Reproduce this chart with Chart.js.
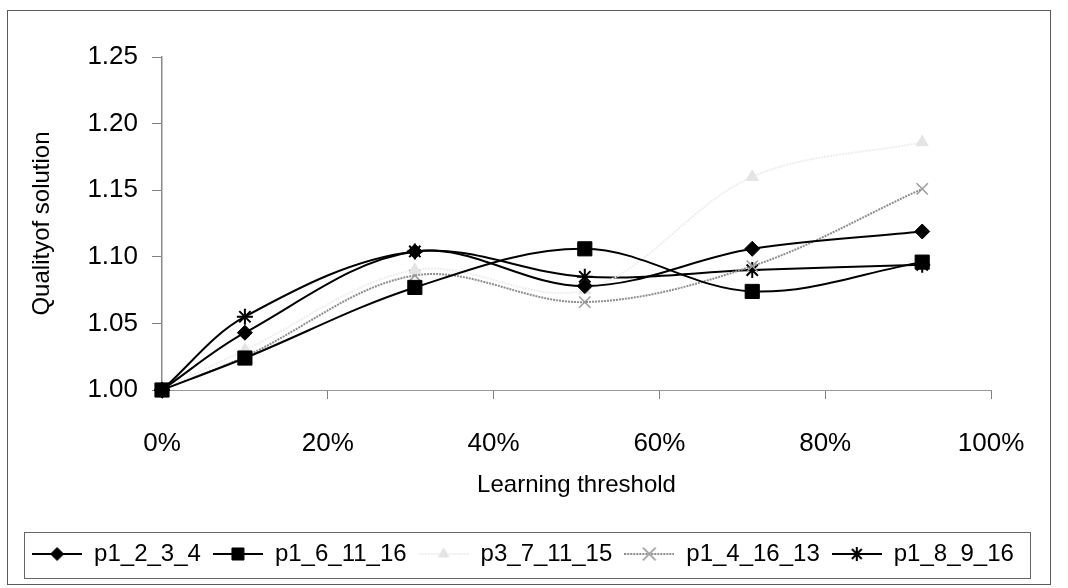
<!DOCTYPE html>
<html>
<head>
<meta charset="utf-8">
<script src="https://cdn.jsdelivr.net/npm/chart.js@4.4.1/dist/chart.umd.min.js"></script>
<style>
  html, body { margin: 0; padding: 0; background: #fff; }
  #wrap { position: relative; width: 1068px; height: 588px; }
</style>
</head>
<body>
<div id="wrap"><canvas id="c" width="1068" height="588"></canvas></div>
<script>
// Learning threshold (%) at which each run was measured
const thresholds = [0, 10, 30.5, 51, 71.2, 91.7];

// Quality of solution per problem instance
const p1_2_3_4   = [1.000, 1.043, 1.104, 1.078, 1.106, 1.119];
const p1_6_11_16 = [1.000, 1.024, 1.077, 1.106, 1.074, 1.096];
const p3_7_11_15 = [1.000, 1.030, 1.090, 1.075, 1.160, 1.186];
const p1_4_16_13 = [1.000, 1.025, 1.086, 1.066, 1.093, 1.151];
const p1_8_9_16  = [1.000, 1.055, 1.104, 1.085, 1.090, 1.094];

const seriesNames = ['p1_2_3_4', 'p1_6_11_16', 'p3_7_11_15', 'p1_4_16_13', 'p1_8_9_16'];
const seriesValues = [p1_2_3_4, p1_6_11_16, p3_7_11_15, p1_4_16_13, p1_8_9_16];

// Axis ticks
const yTicks = [1.00, 1.05, 1.10, 1.15, 1.20, 1.25];
const xTicks = [0, 20, 40, 60, 80, 100];

// Line / marker look of each series
const looks = [
  { line: '#000', lw: 2,   dash: [],     point: 'rectRot',  r: 7.5, fill: '#000', stroke: '#000', pbw: 1,   lr: 6.5 },
  { line: '#000', lw: 2,   dash: [],     point: 'rect',     r: 10,  fill: '#000', stroke: '#000', pbw: 1,   lr: 8.5 },
  { line: '#eeeeee', lw: 2, dash: [2, 1], point: 'triangle', r: 7,  fill: '#e4e4e4', stroke: '#e4e4e4', pbw: 1, lr: 6 },
  { line: '#8e8e8e', lw: 2, dash: [2, 1], point: 'crossRot', r: 8,  fill: 'rgba(0,0,0,0)', stroke: '#9a9a9a', pbw: 1.5, lr: 9 },
  { line: '#000', lw: 2,   dash: [],     point: 'star',     r: 8,   fill: 'rgba(0,0,0,0)', stroke: '#000', pbw: 2, lr: 7 }
];

const FONT = "'Liberation Sans', Arial, Helvetica, sans-serif";
Chart.defaults.font.family = FONT;
Chart.defaults.color = '#000';

// Small line+marker swatches for the legend
function swatch(lk) {
  const c = document.createElement('canvas');
  c.width = 50; c.height = 22;
  const g = c.getContext('2d');
  g.strokeStyle = lk.line;
  g.lineWidth = lk.lw;
  g.setLineDash(lk.dash);
  g.beginPath(); g.moveTo(0, 11); g.lineTo(50, 11); g.stroke();
  g.setLineDash([]);
  g.fillStyle = lk.fill;
  g.strokeStyle = lk.stroke;
  g.lineWidth = lk.pbw;
  Chart.helpers.drawPoint(g, { pointStyle: lk.point, radius: lk.lr, borderWidth: lk.pbw, rotation: 0 }, 25, 11);
  return c;
}
const swatches = looks.map(swatch);

const datasets = seriesNames.map((name, i) => ({
  label: name,
  data: thresholds.map((x, k) => ({ x: x, y: seriesValues[i][k] })),
  borderColor: looks[i].line,
  borderWidth: looks[i].lw,
  borderDash: looks[i].dash,
  backgroundColor: looks[i].fill,
  pointStyle: looks[i].point,
  pointRadius: looks[i].r,
  pointBackgroundColor: looks[i].fill,
  pointBorderColor: looks[i].stroke,
  pointBorderWidth: looks[i].pbw,
  showLine: true,
  tension: 0.35,
  clip: false
}));

// Outer frame and the box around the legend
const framePlugin = {
  id: 'framePlugin',
  afterDraw(chart) {
    const ctx = chart.ctx;
    ctx.save();
    ctx.strokeStyle = '#5a5a5a';
    ctx.lineWidth = 1;
    ctx.strokeRect(7.5, 10.5, 1043, 574);
    const hb = chart.legend.legendHitBoxes;
    if (hb && hb.length) {
      const last = hb[hb.length - 1];
      const l = Math.round(hb[0].left - 8), r = Math.round(last.left + last.width + 16);
      const t = Math.round(hb[0].top - 10), b = Math.round(hb[0].top + hb[0].height + 12);
      ctx.strokeStyle = '#666';
      ctx.strokeRect(l + 0.5, t + 0.5, r - l, b - t);
    }
    ctx.restore();
  }
};

new Chart(document.getElementById('c'), {
  type: 'scatter',
  data: { datasets: datasets },
  plugins: [framePlugin],
  options: {
    responsive: false,
    animation: false,
    devicePixelRatio: 1,
    layout: { padding: { left: 10, right: 32, top: 57, bottom: 12 } },
    plugins: {
      tooltip: { enabled: false },
      legend: {
        position: 'bottom',
        labels: {
          usePointStyle: true,
          pointStyleWidth: 50,
          padding: 12,
          color: '#000',
          font: { size: 24, family: FONT },
          generateLabels: (chart) => chart.data.datasets.map((ds, i) => ({
            text: ds.label,
            pointStyle: swatches[i],
            fillStyle: 'rgba(0,0,0,0)',
            strokeStyle: 'rgba(0,0,0,0)',
            lineWidth: 0,
            fontColor: '#000',
            hidden: false,
            datasetIndex: i
          }))
        }
      }
    },
    scales: {
      x: {
        type: 'linear',
        min: 0, max: 100,
        afterBuildTicks: (s) => { s.ticks = xTicks.map(v => ({ value: v })); },
        ticks: { callback: (v) => v + '%', font: { size: 26 }, color: '#000', padding: 29, maxRotation: 0, autoSkip: false },
        grid: { drawOnChartArea: false, tickLength: 9, color: '#808080' },
        border: { color: '#999', width: 1 },
        title: { display: true, text: 'Learning threshold', font: { size: 24 }, color: '#000', padding: { top: 0, bottom: 30 } },
        afterFit: (s) => { s.height = 140; }
      },
      y: {
        type: 'linear',
        position: 'left',
        min: 1, max: 1.25,
        afterBuildTicks: (s) => { s.ticks = yTicks.map(v => ({ value: v })); },
        ticks: { callback: (v) => Number(v).toFixed(2), font: { size: 26 }, color: '#000', padding: 14 },
        grid: { drawOnChartArea: false, tickLength: 10, color: '#808080' },
        border: { color: '#8a8a8a', width: 1.5 },
        title: { display: true, text: 'Qualityof solution', font: { size: 24 }, color: '#000', padding: { top: 18, bottom: 0 } },
        afterFit: (s) => { s.width = 152; }
      },
      yr: {
        type: 'linear',
        position: 'right',
        display: true,
        grid: { display: false },
        ticks: { display: false },
        border: { display: false },
        afterFit: (s) => { s.width = 45; }
      }
    }
  }
});
</script>
</body>
</html>
